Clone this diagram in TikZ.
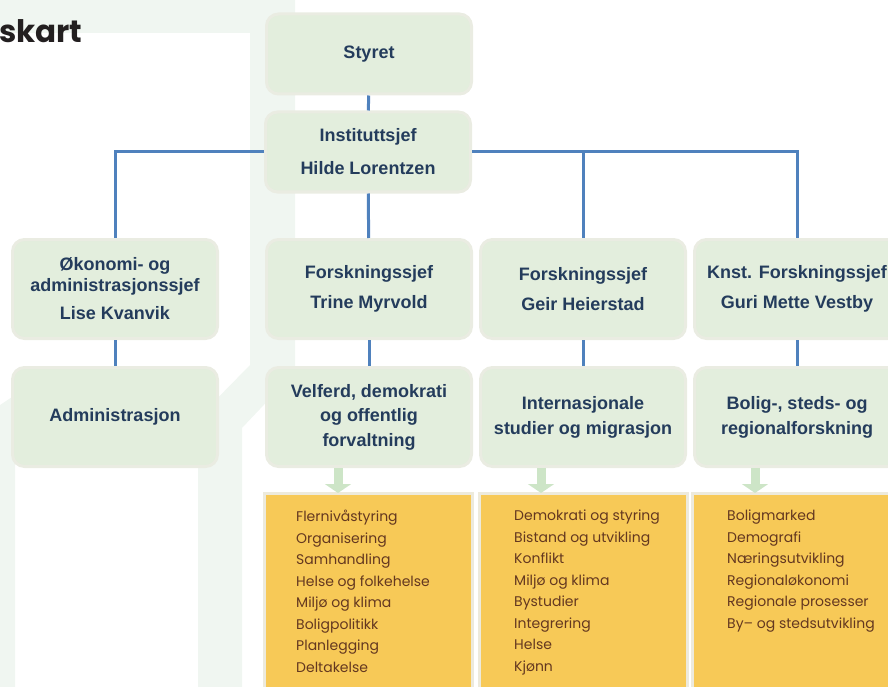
\documentclass[tikz,border=0pt]{standalone}
\usepackage{fontspec}
\setmainfont{Liberation Sans}
\newfontfamily\listfont{Poppins}
\usetikzlibrary{positioning,arrows.meta}
\definecolor{boxfill}{RGB}{227,238,221}
\definecolor{boxrim}{RGB}{234,236,226}
\definecolor{boxtext}{RGB}{36,60,92}
\definecolor{linkblue}{RGB}{79,129,189}
\definecolor{listfill}{RGB}{247,201,87}
\definecolor{listrim}{RGB}{237,234,220}
\definecolor{listtext}{RGB}{100,56,32}
\definecolor{pale}{RGB}{240,246,241}
\definecolor{arrowgreen}{RGB}{205,229,199}

\begin{document}
\begin{tikzpicture}[x=1pt,y=-1pt]
        \tikzstyle{unit}=[draw=boxrim, line width=3pt, fill=boxfill, rounded corners=12pt, minimum width=205pt, minimum height=80pt, align=center, text=boxtext, font=\fontsize{18}{21}\selectfont\bfseries]
        \tikzstyle{tall}=[minimum height=99pt]
        \tikzstyle{link}=[draw=linkblue, line width=3pt]
        \tikzstyle{topicbox}=[draw=listrim, line width=3pt, fill=listfill, anchor=north west, outer sep=0pt, minimum width=208pt, minimum height=220pt]
        \tikzstyle{topics}=[anchor=north west, inner sep=0pt, align=left, text=listtext, font=\listfont\fontsize{14}{21.5}\selectfont]
        \tikzstyle{down}=[draw=arrowgreen, line width=9pt, -{Triangle[width=26pt,length=9pt]}]
        \useasboundingbox (0,0) rectangle (888,687);
        \fill [pale] (0,0) rectangle (250,33);
        \fill [pale] (250,0) -- (295,0) -- (295,372) -- (242,428) -- (242,687) -- (198,687) -- (198,418) -- (250,365) -- cycle;
        \fill [pale] (0,405) -- (15,395) -- (15,687) -- (0,687) -- cycle;
        \node [anchor=base west, inner sep=0pt, text={rgb,255:red,35;green,31;blue,32}, font=\listfont\fontsize{31}{34}\selectfont\bfseries] (heading) at (-1,43) {skart};

        \node [unit] (board) at (369,54) {Styret};
        \node [unit] (chief) at (368,152) {Instituttsjef\\[12pt]Hilde Lorentzen};

        \node [unit, tall] (econ) at (115,289) {Økonomi- og\\administrasjonssjef\\[7pt]Lise Kvanvik};
        \node [unit, tall] (trine) at (369,289) {Forskningssjef\\[9pt]Trine Myrvold};
        \node [unit, tall] (geir) at (583,289) {Forskningssjef\\[9pt]Geir Heierstad};
        \node [unit, tall] (guri) at (797,289) {Knst. Forskningssjef\\[9pt]Guri Mette Vestby};

        \node [unit, tall] (admin) at (115,417) {Administrasjon};
        \node [unit, tall] (welfare) at (369,417) {Velferd, demokrati\\[3.5pt]og offentlig\\[3.5pt]forvaltning};
        \node [unit, tall] (intl) at (583,417) {Internasjonale\\[4pt]studier og migrasjon};
        \node [unit, tall] (housing) at (797,417) {Bolig-, steds- og\\[4pt]regionalforskning};

        \draw [link] (board) -- (chief);
        \draw [link] (chief) -- (trine);
        \draw [link] (chief.west) -| (econ);
        \draw [link] (chief.east) -| (geir);
        \draw [link] (chief.east) -| (guri);
        \draw [link] (econ) -- (admin);
        \draw [link] (trine) -- (welfare);
        \draw [link] (geir) -- (intl);
        \draw [link] (guri) -- (housing);

        \node [topicbox] (listA) at (264,493) {};
        \node [topicbox] (listB) at (479,493) {};
        \node [topicbox] (listC) at (692,493) {};
        \node [topics] (topicsA) at ([shift={(32,17)}]listA.north west) {Flernivåstyring\\Organisering\\Samhandling\\Helse og folkehelse\\Miljø og klima\\Boligpolitikk\\Planlegging\\Deltakelse};
        \node [topics] (topicsB) at ([shift={(35,17)}]listB.north west) {Demokrati og styring\\Bistand og utvikling\\Konflikt\\Miljø og klima\\Bystudier\\Integrering\\Helse\\Kjønn};
        \node [topics] (topicsC) at ([shift={(35,17)}]listC.north west) {Boligmarked\\Demografi\\Næringsutvikling\\Regionaløkonomi\\Regionale prosesser\\By– og stedsutvikling};

        \draw [down] ([xshift=-31pt]welfare.south) -- ([xshift=-31pt]welfare.south |- listA.north);
        \draw [down] ([xshift=-42pt]intl.south) -- ([xshift=-42pt]intl.south |- listB.north);
        \draw [down] ([xshift=-42pt]housing.south) -- ([xshift=-42pt]housing.south |- listC.north);
\end{tikzpicture}
\end{document}
